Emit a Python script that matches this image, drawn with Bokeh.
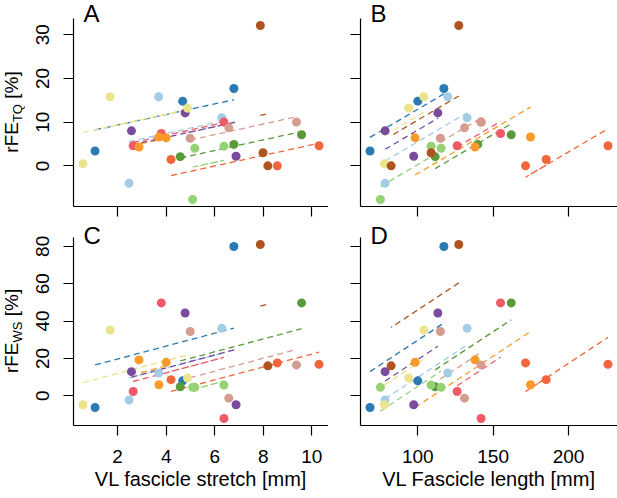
import numpy as np
from bokeh.plotting import figure
from bokeh.layouts import column, row
from bokeh.models import FixedTicker, Range1d, Div
from bokeh.core.properties import value
from bokeh.embed import file_html
from bokeh.resources import INLINE

# ---------------- data (11 participants x 3 conditions, data order) ----------------
colors = ["#2a7ab3", "#a4cde5", "#5a9a3a", "#94d274", "#ee5a66", "#fa9a2a",
          "#7a4a9c", "#ebe48c", "#b0541f", "#d59c90", "#f1663a"]

# VL fascicle stretch [mm]
stretch = [
    [1.07, 4.68, 6.79],
    [2.47, 3.69, 6.29],
    [4.58, 6.79, 9.58],
    [5.09, 6.38, 5.18],
    [2.64, 6.38, 3.80],
    [4.00, 2.88, 3.70],
    [2.57, 6.88, 4.78],
    [0.57, 4.88, 1.69],
    [7.88, 7.99, 8.19],
    [4.99, 6.58, 9.37],
    [4.20, 8.58, 10.30],
]
# VL fascicle length [mm]
length = [
    [68.3, 100.0, 117.3],
    [78.3, 119.9, 132.7],
    [111.5, 139.8, 162.0],
    [75.2, 108.8, 115.5],
    [126.1, 142.0, 154.9],
    [98.2, 138.0, 174.8],
    [78.3, 97.3, 113.3],
    [77.8, 94.0, 104.0],
    [127.2, 108.8, 82.3],
    [115.0, 131.0, 142.0],
    [185.2, 171.5, 226.2],
]
# rFE torque [%]
rfe_tq = [
    [3.4, 14.8, 17.7],
    [-4.0, 15.8, 11.0],
    [2.1, 4.9, 7.1],
    [-7.7, 4.5, 4.0],
    [4.6, 10.0, 7.4],
    [6.4, 4.3, 6.6],
    [8.0, 2.2, 12.1],
    [0.5, 13.2, 15.8],
    [32.1, 3.0, 0.0],
    [6.3, 8.7, 10.0],
    [1.45, 0.0, 4.6],
]
# rFE work [%]  (None = missing)
rfe_ws = [
    [-6.3, 8.0, 79.9],
    [-2.3, 12.2, 36.1],
    [4.8, None, 49.7],
    [4.5, 5.7, 4.5],
    [2.3, -12.2, 49.7],
    [17.9, 19.2, 5.9],
    [12.9, -4.8, 44.3],
    [-4.8, 9.5, 35.2],
    [81.0, None, 16.0],
    [34.4, -1.3, 16.5],
    [8.6, 17.6, 16.8],
]

x_ticks_stretch = [2, 4, 6, 8, 10]
x_ticks_length = [100, 150, 200]
y_ticks_tq = [0, 10, 20, 30]
y_ticks_ws = [0, 20, 40, 60, 80]

FONT = "Liberation Sans"


def clean(xs, ys):
    out = []
    for xi, yi in zip(xs, ys):
        pts = [(a, b) for a, b in zip(xi, yi) if b is not None]
        out.append((np.array([a for a, _ in pts]), np.array([b for _, b in pts])))
    return out


def rm_slope(groups):
    num = den = 0.0
    for xa, ya in groups:
        num += np.sum((xa - xa.mean()) * (ya - ya.mean()))
        den += np.sum((xa - xa.mean()) ** 2)
    return num / den


def r_limits(vals):
    lo, hi = float(min(vals)), float(max(vals))
    pad = 0.04 * (hi - lo)
    return lo - pad, hi + pad


def panel(xs, ys, width, height, left, bottom, axis_h, extra_top, xticks, yticks,
          show_xlab, show_ylab, xlabel, letter, letter_drop):
    groups = clean(xs, ys)
    allx = np.concatenate([g[0] for g in groups])
    ally = np.concatenate([g[1] for g in groups])
    x0, x1 = r_limits(allx)
    y0, y1 = r_limits(ally)
    per_px = (y1 - y0) / axis_h
    y1e = y1 + extra_top * per_px          # frame reaches to the top of the canvas
    p = figure(width=width, height=height, output_backend="svg", toolbar_location=None,
               x_range=Range1d(x0, x1), y_range=Range1d(y0, y1e),
               min_border_left=left, min_border_right=0,
               min_border_top=0, min_border_bottom=bottom)
    p.outline_line_color = None
    p.grid.visible = False
    p.background_fill_color = "white"
    p.border_fill_color = "white"

    slope = rm_slope(groups)
    for (xa, ya), c in zip(groups, colors):
        fit = ya.mean() + slope * (xa - xa.mean())
        p.line(xa, fit, line_color=c, line_width=1.3, line_dash="6 4")
    for (xa, ya), c in zip(groups, colors):
        p.scatter(xa, ya, size=9, fill_color=c, line_color=None)

    for ax in (p.xaxis[0], p.yaxis[0]):
        ax.axis_line_color = "black"
        ax.axis_line_width = 1.2
        ax.major_tick_line_color = "black"
        ax.major_tick_line_width = 1.2
        ax.major_tick_out = 10
        ax.major_tick_in = 0
        ax.minor_tick_out = 0
        ax.minor_tick_in = 0
        ax.major_label_text_font = FONT
        ax.major_label_text_color = "black"
        ax.major_label_text_font_size = "19px"
    p.xaxis.major_label_standoff = 14
    p.yaxis.major_label_standoff = 14
    p.xaxis.ticker = FixedTicker(ticks=xticks)
    p.yaxis.ticker = FixedTicker(ticks=yticks)
    p.yaxis.bounds = (y0, y1)
    p.yaxis.major_label_orientation = "vertical"
    if not show_xlab:
        p.xaxis.major_label_overrides = {t: "" for t in xticks}
        p.xaxis.major_label_text_font_size = "1px"
        p.xaxis.major_label_standoff = 0
    if not show_ylab:
        p.yaxis.major_label_overrides = {t: "" for t in yticks}
        p.yaxis.major_label_text_font_size = "1px"
        p.yaxis.major_label_standoff = 0
    if xlabel:
        p.xaxis.axis_label = xlabel
        p.xaxis.axis_label_text_font = FONT
        p.xaxis.axis_label_text_font_size = "20px"
        p.xaxis.axis_label_text_font_style = "normal"
        p.xaxis.axis_label_text_color = "black"
        p.xaxis.axis_label_standoff = 2
    fw = width - left
    lx = x0 + 10 * (x1 - x0) / fw
    ly = y1 - letter_drop * per_px
    p.text(x=[lx], y=[ly], text=[letter], text_font=value(FONT), text_font_size="24px",
           text_color="black", text_align="left", text_baseline="alphabetic")
    return p


def y_title(width, height, center_y, sub):
    # rotated "rFE<sub> [%]" as HTML text in a narrow strip left of the panel
    big, small = 19, 13
    w_main = 1.611 * big
    w_sub = {"TQ": 1.389, "WS": 1.611}[sub] * small
    w_tail = 1.723 * big
    total = w_main + w_sub + w_tail
    start = center_y + total / 2
    html = (
        f'<div style="white-space:nowrap;font-family:\'{FONT}\';font-size:{big}px;'
        f'line-height:22px;height:22px;color:#000;transform-origin:0 0;'
        f'transform:translate(1px,{start:.1f}px) rotate(-90deg);">'
        f'rFE<span style="font-size:{small}px;position:relative;top:4px;line-height:0;">{sub}</span>'
        f' [%]</div>'
    )
    return Div(text=html, width=width, height=height, margin=0)


pA = panel(stretch, rfe_tq, 304, 220, 49, 14, 188, 18, x_ticks_stretch, y_ticks_tq,
           False, True, None, "A", -5)
pB = panel(length, rfe_tq, 289, 220, 32, 14, 188, 18, x_ticks_length, y_ticks_tq,
           False, False, None, "B", -5)
pC = panel(stretch, rfe_ws, 304, 278, 49, 73, 188, 17, x_ticks_stretch, y_ticks_ws,
           True, True, "VL fascicle stretch [mm]", "C", -2)
pD = panel(length, rfe_ws, 289, 278, 32, 73, 188, 17, x_ticks_length, y_ticks_ws,
           True, False, "VL Fascicle length [mm]", "D", -2)
tA = y_title(24, 220, 112, "TQ")
tC = y_title(24, 278, 331 - 220, "WS")

layout = column(row(tA, pA, pB), row(tC, pC, pD))
open("out.html", "w").write(file_html(layout, INLINE))
